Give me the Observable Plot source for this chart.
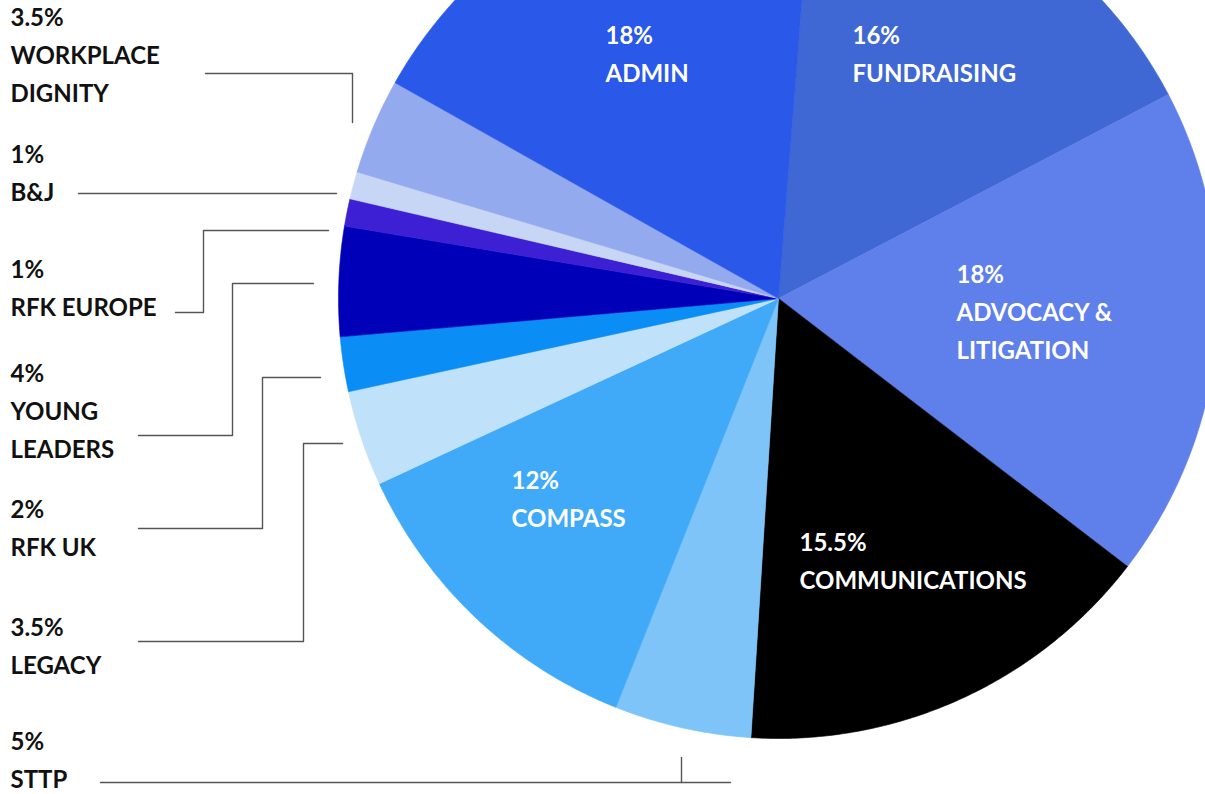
<!DOCTYPE html>
<html>
<head>
<meta charset="utf-8">
<script src="https://cdn.jsdelivr.net/npm/d3@7"></script>
<script src="https://cdn.jsdelivr.net/npm/@observablehq/plot@0.6"></script>
<style>
  html, body { margin: 0; padding: 0; background: #fff; overflow: hidden; }
  #chart svg { display: block; }
</style>
</head>
<body>
<div id="chart"></div>
<script>
// ---- data ----
const categories = ["FUNDRAISING", "ADVOCACY &\nLITIGATION", "COMMUNICATIONS", "STTP", "COMPASS", "LEGACY",
  "RFK UK", "YOUNG\nLEADERS", "RFK EUROPE", "B&J", "WORKPLACE\nDIGNITY", "ADMIN"];
const shares = [16, 18, 15.5, 5, 12, 3.5, 2, 4, 1, 1, 3.5, 18];
const shareLabels = ["16%", "18%", "15.5%", "5%", "12%", "3.5%", "2%", "4%", "1%", "1%", "3.5%", "18%"];
const sliceColors = ["#3f68d4", "#5f80ea", "#000000", "#7ec4f8", "#40aaf8", "#bfe2fa",
  "#0a8ef5", "#0000b8", "#3d1fd4", "#c8d6f6", "#94aaee", "#2a58e8"];

// ---- layout (pixels) ----
const W = 1205, H = 794;
const center = [778, 298], radius = 440;
const startDeg = 4.5;
const labelLayout = {
  "FUNDRAISING": {x: 852, y: 17, color: "#fff"},
  "ADVOCACY &\nLITIGATION": {x: 956, y: 256, color: "#fff"},
  "COMMUNICATIONS": {x: 799, y: 524, color: "#fff"},
  "STTP": {x: 10, y: 723, color: "#111"},
  "COMPASS": {x: 511, y: 462, color: "#fff"},
  "LEGACY": {x: 10, y: 609, color: "#111"},
  "RFK UK": {x: 10, y: 491, color: "#111"},
  "YOUNG\nLEADERS": {x: 10, y: 355, color: "#111"},
  "RFK EUROPE": {x: 10, y: 251, color: "#111"},
  "B&J": {x: 10, y: 136, color: "#111"},
  "WORKPLACE\nDIGNITY": {x: 10, y: -1, color: "#111"},
  "ADMIN": {x: 605, y: 17, color: "#fff"}
};
const leaders = [
  {key: "WORKPLACE\nDIGNITY", pts: [[205, 73], [352, 73], [352, 122]]},
  {key: "B&J", pts: [[78, 193], [336, 193]]},
  {key: "RFK EUROPE", pts: [[175, 312], [203, 312], [203, 230], [328, 230]]},
  {key: "YOUNG\nLEADERS", pts: [[138, 435], [232, 435], [232, 283], [313, 283]]},
  {key: "RFK UK", pts: [[138, 528], [262, 528], [262, 377], [320, 377]]},
  {key: "LEGACY", pts: [[138, 641], [303, 641], [303, 443], [342, 443]]},
  {key: "STTP", pts: [[100, 782], [730, 782]]},
  {key: "STTP-tick", pts: [[681, 757], [681, 782]]}
];

// ---- build slices through d3.pie ----
const rows = categories.map((c, i) => ({name: c, value: shares[i], pct: shareLabels[i], color: sliceColors[i]}));
const arcs = d3.pie().sort(null).value(d => d.value)
  .startAngle(startDeg * Math.PI / 180)
  .endAngle((startDeg + 360) * Math.PI / 180)(rows);

const slicePts = [];
for (const a of arcs) {
  const pts = [[center[0], center[1]]];
  const n = Math.max(4, Math.ceil((a.endAngle - a.startAngle) / (Math.PI / 360)));
  for (let k = 0; k <= n; k++) {
    const t = a.startAngle + (a.endAngle - a.startAngle) * k / n;
    pts.push([center[0] + radius * Math.sin(t), center[1] - radius * Math.cos(t)]);
  }
  pts.push([center[0], center[1]]);
  for (const p of pts) slicePts.push({name: a.data.name, color: a.data.color, x: p[0], y: p[1]});
}

const labels = rows.map(r => ({
  text: r.pct + "\n" + r.name,
  x: labelLayout[r.name].x, y: labelLayout[r.name].y, color: labelLayout[r.name].color
}));

const leaderPts = leaders.flatMap(l => l.pts.map(p => ({key: l.key, x: p[0], y: p[1]})));

const chart = Plot.plot({
  width: W, height: H,
  margin: 0,
  x: {domain: [0, W], range: [0, W], axis: null},
  y: {domain: [0, H], range: [0, H], axis: null},
  color: {type: "identity"},
  style: {background: "#fff"},
  marks: [
    Plot.line(slicePts, {x: "x", y: "y", z: "name", fill: "color", stroke: "color", strokeWidth: 0.6, curve: "linear"}),
    Plot.line(leaderPts, {x: "x", y: "y", z: "key", stroke: "#555", strokeWidth: 1.4, curve: "linear"}),
    Plot.text(labels, {
      x: "x", y: "y", text: "text", fill: "color",
      textAnchor: "start", lineAnchor: "top", lineHeight: 1.583,
      fontSize: 24, fontWeight: "bold", fontFamily: "Lato, 'Open Sans', sans-serif"
    })
  ]
});
document.getElementById("chart").appendChild(chart);
</script>
</body>
</html>
